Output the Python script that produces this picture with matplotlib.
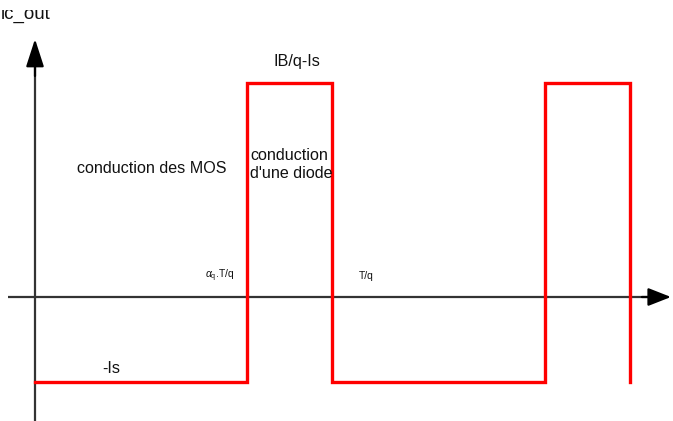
import matplotlib
matplotlib.use("Agg")
import matplotlib.pyplot as plt
from matplotlib.patches import Rectangle

plt.rcParams['font.family'] = ['Liberation Sans', 'DejaVu Sans']
plt.rcParams['mathtext.fontset'] = 'custom'
plt.rcParams['mathtext.rm'] = 'Liberation Sans'
plt.rcParams['mathtext.it'] = 'Liberation Sans:italic'

# Waveform data (time in units of one period, current in units of Is)
t_wave = [0, 0.416, 0.416, 0.582, 0.582, 1.0, 1.0, 1.167, 1.167]
i_wave = [-1, -1, 2.52, 2.52, -1, -1, 2.52, 2.52, -1]

y_label = "ic_out"
high_label = "IB/q-Is"
low_label = "-Is"
mos_label = "conduction des MOS"
diode_label = ["conduction", "d'une diode"]
tick_alpha = r"$\alpha_{\rm q}$.T/q"
tick_T = "T/q"

W, H = 673, 421
fig = plt.figure(figsize=(W / 100, H / 100), dpi=100)
ax = fig.add_axes([0, 0, 1, 1])
ax.set_xlim(-35 / 510, 638 / 510)
ax.set_ylim(-124 / 85, 297 / 85)
ax.axis('off')

axis_col = '#333333'
# x axis
ax.plot([-27 / 510, 1.21], [0, 0], color=axis_col, lw=1.6, solid_capstyle='butt', zorder=1)
ax.annotate('', xy=(1.247, 0), xytext=(1.19, 0),
            arrowprops=dict(arrowstyle='-|>,head_length=1.4,head_width=0.55',
                            color='black', lw=1.6, shrinkA=0, shrinkB=0))
# y axis
ax.plot([0, 0], [-1.6, 2.8], color=axis_col, lw=1.6, solid_capstyle='butt', zorder=1)
ax.annotate('', xy=(0, 3.035), xytext=(0, 2.6),
            arrowprops=dict(arrowstyle='-|>,head_length=1.7,head_width=0.55',
                            color='black', lw=1.6, shrinkA=0, shrinkB=0))

# waveform
ax.plot(t_wave, i_wave, color='#ff0000', lw=2.4, solid_joinstyle='miter', zorder=3)

fs = 11.6
txt = ax.text(-35 / 510 + 1 / 510, (297 - 19) / 85, y_label, fontsize=13.5,
              ha='left', va='baseline', color='#111111')
clip = Rectangle((0, 0), 1, (H - 10) / H, transform=fig.transFigure)
txt.set_clip_on(True)
txt.set_clip_path(clip)

ax.text(0.514, 2.765, high_label, fontsize=fs, ha='center', va='center', color='#111111')
ax.text(0.0824, 1.506, mos_label, fontsize=fs, ha='left', va='center', color='#111111')
ax.text(0.4216, (297 - 155) / 85, diode_label[0], fontsize=fs, ha='left', va='center', color='#111111')
ax.text(0.4216, (297 - 173) / 85, diode_label[1], fontsize=fs, ha='left', va='center', color='#111111')
ax.text(0.149, -0.847, low_label, fontsize=fs, ha='center', va='center', color='#111111')
ax.text(0.363, 0.247, tick_alpha, fontsize=7.5, ha='center', va='center', color='#111111')
ax.text(0.649, 0.247, tick_T, fontsize=7.5, ha='center', va='center', color='#111111')

fig.savefig('out.png', dpi=100)
